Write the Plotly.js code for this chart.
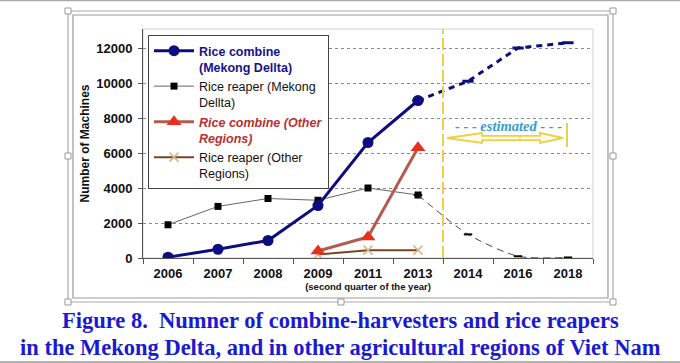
<!DOCTYPE html>
<html><head><meta charset="utf-8">
<script src="https://cdn.plot.ly/plotly-3.0.1.min.js"></script>
<style>html,body{margin:0;padding:0;background:#fff}#chart{width:680px;height:363px}</style>
</head><body><div id="chart"></div>
<script>
// ---- data ----
const categories = ['2006','2007','2008','2009','2011','2013','2014','2016','2018'];
const observedYears = ['2006','2007','2008','2009','2011','2013'];
const estimatedYears = ['2013','2014','2016','2018'];
const otherYears = ['2009','2011','2013'];
const combineMekong = [50, 500, 1000, 3000, 6600, 9000];
const combineMekongEst = [9000, 10100, 12000, 12300];
const reaperMekong = [1900, 2950, 3400, 3300, 4000, 3600];
const reaperMekongEst = [3600, 1350, 100, 30];
const combineOther = [400, 1200, 6300];
const reaperOther = [200, 450, 450];
const yTickVals = [0, 2000, 4000, 6000, 8000, 10000, 12000];
const seriesNames = [
  '<b><span style="color:#14148a">Rice combine<br>(Mekong Dellta)</span></b>',
  'Rice reaper (Mekong<br>Dellta)',
  '<b><i><span style="color:#b83030">Rice combine (Other<br>Regions)</span></i></b>',
  'Rice reaper (Other<br>Regions)'
];
const captionLines = [
  'Figure 8.&nbsp; Numner of combine-harvesters and rice reapers',
  'in the Mekong Delta, and in other agricultural regions of Viet Nam'
];
const estimatedLabel = '- - - estimated - - -';
const xTitle = '(second quarter of the year)';
const yTitle = 'Number of Machines';

// ---- layout helpers (pixel -> paper) ----
const W = 680, H = 363, L = 143, R = 87, T = 29, B = 105;
const pw = W - L - R, ph = H - T - B;
const fx = x => (x - L) / pw;
const fy = y => (H - B - y) / ph;

const NAVY = '#0d0d80';
const traces = [
  {x: observedYears, y: reaperMekong, name: seriesNames[1], legendrank: 2, type: 'scatter', mode: 'lines+markers',
   line: {color: '#666', width: 1}, marker: {symbol: 'square', size: 7, color: '#000'}},
  {x: estimatedYears, y: reaperMekongEst, showlegend: false, type: 'scatter', mode: 'lines+markers',
   line: {color: '#444', width: 1, dash: '7px,5px', shape: 'spline', smoothing: 0.7},
   marker: {symbol: 'line-ew', size: 6, line: {color: '#000', width: 2}}},
  {x: observedYears, y: combineMekong, name: seriesNames[0], legendrank: 1, type: 'scatter', mode: 'lines+markers',
   line: {color: NAVY, width: 3}, marker: {symbol: 'circle', size: 11, color: NAVY}},
  {x: estimatedYears, y: combineMekongEst, showlegend: false, type: 'scatter', mode: 'lines+markers',
   line: {color: NAVY, width: 3, dash: '6px,5px'},
   marker: {symbol: 'line-ew', size: 8, line: {color: NAVY, width: 3}}},
  {x: otherYears, y: reaperOther, name: seriesNames[3], legendrank: 4, type: 'scatter', mode: 'lines+markers',
   line: {color: '#7a4422', width: 2}, marker: {symbol: 'x-thin', size: 9, line: {color: '#d9b48a', width: 1.5}}},
  {x: otherYears, y: combineOther, name: seriesNames[2], legendrank: 3, type: 'scatter', mode: 'lines+markers',
   line: {color: '#b55a50', width: 3}, marker: {symbol: 'triangle-up', size: 13, color: '#e8301c'}}
];

const GOLD = '#efcf45';
const arrowPts = [[447,138],[482,133],[482,135.8],[540,135.8],[540,133],[563,138],[540,143],[540,140.2],[482,140.2],[482,143]];
const arrowPath = 'M' + arrowPts.map(p => fx(p[0]).toFixed(4) + ',' + fy(p[1]).toFixed(4)).join(' L') + ' Z';

function rectPx(x0, y0, x1, y1, color, width) {
  return {type: 'rect', xref: 'paper', yref: 'paper', x0: fx(x0), x1: fx(x1), y0: fy(y1), y1: fy(y0),
          line: {color: color, width: width}, fillcolor: 'rgba(0,0,0,0)', layer: 'below'};
}
function linePx(x0, y0, x1, y1, color, width, dash) {
  return {type: 'line', xref: 'paper', yref: 'paper', x0: fx(x0), x1: fx(x1), y0: fy(y0), y1: fy(y1),
          line: {color: color, width: width, dash: dash || 'solid'}};
}
function handlePx(x, y) {
  return {type: 'rect', xref: 'paper', yref: 'paper', x0: fx(x - 3), x1: fx(x + 3), y0: fy(y + 3), y1: fy(y - 3),
          line: {color: '#999', width: 1}, fillcolor: '#fff'};
}

const shapes = [
  linePx(0, 0.5, 680, 0.5, '#aaa', 1.5),
  linePx(0, 362, 680, 362, '#999', 1.5),
  rectPx(68, 11, 613, 302, '#aaa', 1.2),
  rectPx(73, 15, 608, 298, '#999', 1.2),
  rectPx(143, 29, 593, 258, '#cfcfcf', 1),
  {type: 'line', xref: 'x', yref: 'paper', x0: 5.5, x1: 5.5, y0: 0, y1: 1, line: {color: GOLD, width: 2, dash: '12px,4px'}},
  {type: 'path', xref: 'paper', yref: 'paper', path: arrowPath, line: {color: GOLD, width: 1.8}, fillcolor: 'rgba(255,250,225,0.6)'},
  linePx(520, 135.8, 520, 140.2, GOLD, 1),
  linePx(567, 123, 567, 147, GOLD, 2),
  handlePx(68, 11), handlePx(613, 11), handlePx(68, 156), handlePx(613, 156),
  handlePx(68, 302), handlePx(341, 302), handlePx(613, 302)
];

const annotations = [
  {xref: 'paper', yref: 'paper', x: fx(508), y: fy(126), text: '<b><i>' + estimatedLabel + '</i></b>', showarrow: false,
   font: {family: 'Liberation Serif, Times New Roman, serif', size: 14.5, color: '#3a9ccb'}, xanchor: 'center', yanchor: 'middle'},
  {xref: 'paper', yref: 'paper', x: fx(340), y: fy(320), text: '<b>' + captionLines[0] + '</b>', showarrow: false,
   font: {family: 'Liberation Serif, Times New Roman, serif', size: 22.5, color: '#1a1ad0'}, xanchor: 'center', yanchor: 'middle'},
  {xref: 'paper', yref: 'paper', x: fx(340), y: fy(347), text: '<b>' + captionLines[1] + '</b>', showarrow: false,
   font: {family: 'Liberation Serif, Times New Roman, serif', size: 22.5, color: '#1a1ad0'}, xanchor: 'center', yanchor: 'middle'}
];

const layout = {
  width: W, height: H,
  margin: {l: L, r: R, t: T, b: B, pad: 0},
  paper_bgcolor: '#fff', plot_bgcolor: '#fff',
  font: {family: 'Arial, Liberation Sans, sans-serif', color: '#111'},
  showlegend: true,
  legend: {x: fx(148), y: fy(35), xanchor: 'left', yanchor: 'top', bgcolor: '#fff', bordercolor: '#444', borderwidth: 1,
           font: {size: 12.5, color: '#111'}, itemwidth: 40, valign: 'top', tracegroupgap: 0, traceorder: 'normal'},
  xaxis: {type: 'category', categoryorder: 'array', categoryarray: categories, range: [-0.5, 8.5],
          showline: true, linecolor: '#555', linewidth: 1, ticks: 'outside', ticklen: 5, tickcolor: '#555', tickson: 'boundaries',
          showgrid: false, zeroline: false, ticklabelstandoff: 3,
          tickfont: {size: 13, weight: 'bold', color: '#111'}, fixedrange: true,
          title: {text: xTitle, font: {size: 9.5, weight: 'bold', color: '#111'}, standoff: 3}},
  yaxis: {range: [0, 13086], tickvals: yTickVals, ticktext: yTickVals.map(String),
          showline: true, linecolor: '#555', linewidth: 1, ticks: 'outside', ticklen: 4, tickcolor: '#555',
          showgrid: true, gridcolor: '#888', griddash: 'dot', gridwidth: 1, zeroline: false, ticklabelstandoff: 3,
          tickfont: {size: 13, weight: 'bold', color: '#111'}, fixedrange: true,
          title: {text: yTitle, font: {size: 12, weight: 'bold', color: '#111'}, standoff: 4}},
  shapes: shapes,
  annotations: annotations
};

Plotly.newPlot('chart', traces, layout, {displayModeBar: false, staticPlot: true});
</script>
</body></html>
